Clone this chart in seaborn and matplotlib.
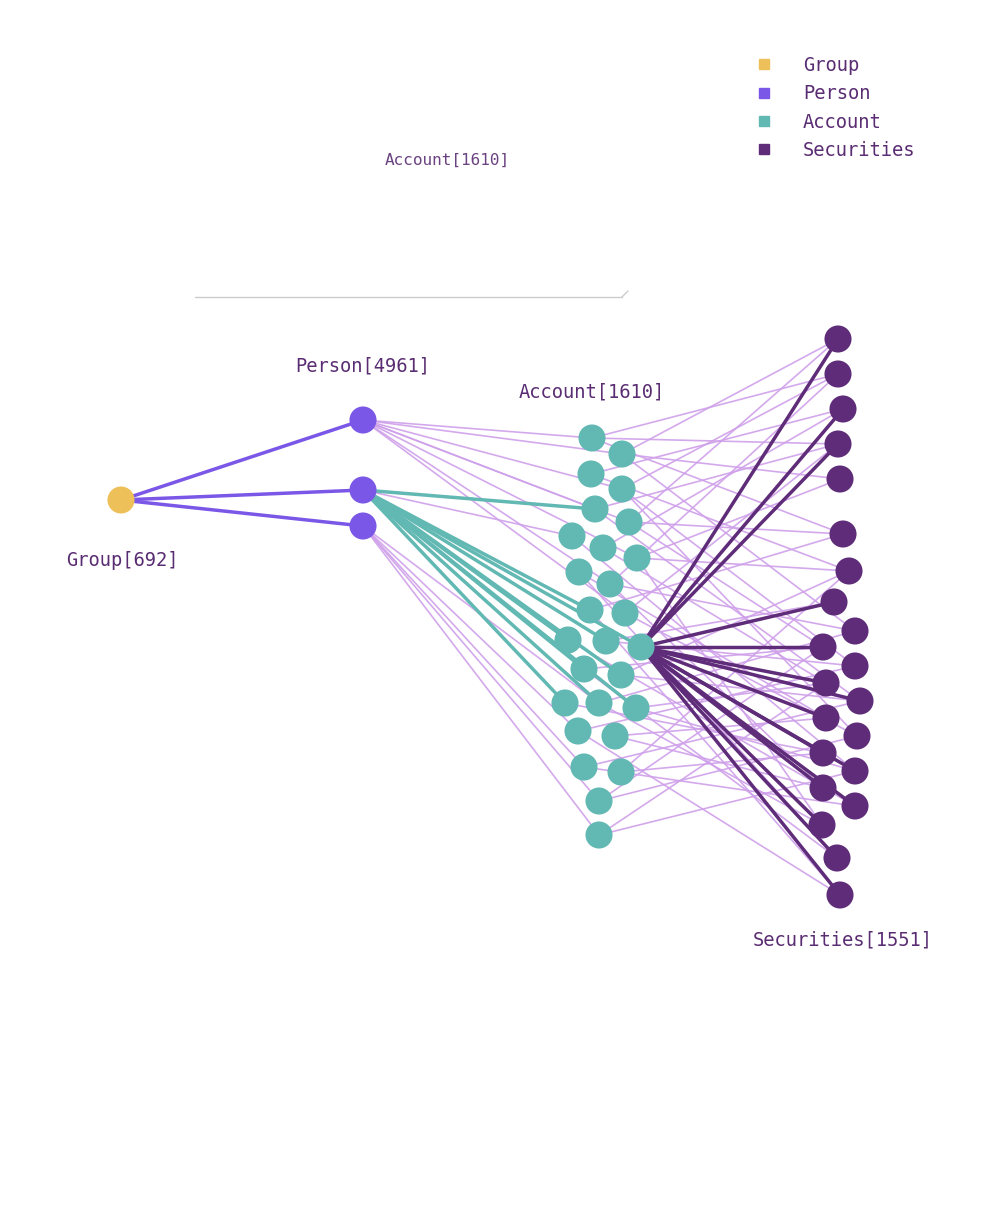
import matplotlib.pyplot as plt
import seaborn as sns
from matplotlib.lines import Line2D

sns.set_theme(style="white")
plt.rcParams["font.family"] = ["DejaVu Sans Mono"]

TXT = "#5a2d73"
COLORS = {"Group": "#eec05a", "Person": "#7b57e8", "Account": "#62b8b2", "Securities": "#5e2c78"}
LIGHT = "#cfa0ea"

# node positions (layout of the graph, pixel space)
group_xy = [(121, 500)]
person_xy = [(363, 420), (363, 490), (363, 526)]
account_xy = [(592, 438), (622, 454), (591, 474), (622, 489), (595, 509), (629, 522),
              (572, 536), (603, 548), (637, 558), (579, 572), (610, 584), (590, 610),
              (625, 613), (568, 640), (606, 641), (641, 647), (584, 669), (621, 675),
              (565, 703), (599, 703), (636, 708), (578, 731), (615, 736), (584, 767),
              (621, 772), (599, 801), (599, 835)]
sec_xy = [(838, 339), (838, 374), (843, 409), (838, 444), (840, 479), (843, 534),
          (849, 571), (834, 602), (855, 631), (823, 647), (855, 666), (826, 683),
          (860, 701), (826, 718), (857, 736), (823, 753), (855, 771), (823, 788),
          (855, 806), (822, 825), (837, 858), (840, 895)]

# edges
group_person = [(0, 0), (0, 1), (0, 2)]
person_account_hi = [(1, 4), (1, 11), (1, 13), (1, 14), (1, 15), (1, 16), (1, 17),
                     (1, 18), (1, 19), (1, 20)]
person_account_lo = [(0, 0), (0, 1), (0, 3), (0, 4), (0, 5), (0, 8), (0, 10), (0, 12),
                     (1, 6), (2, 19), (2, 21), (2, 23), (2, 25), (2, 26)]
account_sec_hi = [(15, 0), (15, 2), (15, 3), (15, 7), (15, 9), (15, 11), (15, 12),
                  (15, 13), (15, 15), (15, 16), (15, 17), (15, 18), (15, 19),
                  (15, 20), (15, 21)]
account_sec_lo = [(0, 1), (0, 3), (0, 5), (1, 0), (1, 4), (1, 8), (2, 2), (2, 6),
                  (3, 1), (3, 10), (3, 14), (4, 3), (4, 12), (5, 0), (5, 5), (5, 9),
                  (6, 16), (7, 2), (7, 11), (8, 4), (8, 6), (8, 19), (9, 13), (9, 20),
                  (10, 1), (10, 8), (10, 17), (11, 5), (11, 21), (12, 3), (12, 14),
                  (13, 18), (14, 7), (14, 10), (16, 9), (16, 20), (17, 6), (17, 12),
                  (18, 15), (19, 8), (19, 19), (20, 11), (20, 16), (21, 10), (21, 21),
                  (22, 13), (22, 17), (23, 12), (23, 18), (24, 6), (24, 15),
                  (25, 14), (25, 9), (26, 16), (26, 11)]

labels = [("Group[692]", 122, 561), ("Person[4961]", 363, 366),
          ("Account[1610]", 592, 392), ("Securities[1551]", 843, 940)]

fig = plt.figure(figsize=(10, 12.15), dpi=100)
ax = fig.add_axes([0, 0, 1, 1])
ax.set_xlim(0, 1000)
ax.set_ylim(1215, 0)
ax.axis("off")


def draw(edges, a, b, color, lw, alpha=1.0, z=1):
    for i, j in edges:
        ax.plot([a[i][0], b[j][0]], [a[i][1], b[j][1]], color=color, lw=lw, alpha=alpha,
                zorder=z, solid_capstyle="round")


draw(person_account_lo, person_xy, account_xy, LIGHT, 1.2, 0.9)
draw(account_sec_lo, account_xy, sec_xy, LIGHT, 1.2, 0.9)
draw(group_person, group_xy, person_xy, COLORS["Person"], 2.5, z=2)
draw(person_account_hi, person_xy, account_xy, COLORS["Account"], 2.5, z=2)
draw(account_sec_hi, account_xy, sec_xy, COLORS["Securities"], 2.5, z=2)

for name, pts in [("Group", group_xy), ("Person", person_xy),
                  ("Account", account_xy), ("Securities", sec_xy)]:
    sns.scatterplot(x=[p[0] for p in pts], y=[p[1] for p in pts], ax=ax, s=380,
                    color=COLORS[name], edgecolor="none", zorder=3, legend=False)

for t, x, y in labels:
    ax.text(x, y, t, ha="center", va="center", fontsize=13.5, color=TXT)

# tooltip remnant
ax.text(447, 160, "Account[1610]", ha="center", va="center", fontsize=11.5, color=TXT, alpha=0.9)
ax.plot([195, 622], [297, 297], color="#cccccc", lw=1)
ax.plot([622, 628], [297, 291], color="#cccccc", lw=1)

handles = [Line2D([], [], marker="s", ls="", color=c, markersize=7, label=k)
           for k, c in COLORS.items()]
leg = ax.legend(handles=handles, loc="upper left", bbox_to_anchor=(0.728, 0.968),
                frameon=False, fontsize=13.5, labelspacing=0.5, handletextpad=1.1)
for t in leg.get_texts():
    t.set_color(TXT)

fig.savefig("out.png", dpi=100)
